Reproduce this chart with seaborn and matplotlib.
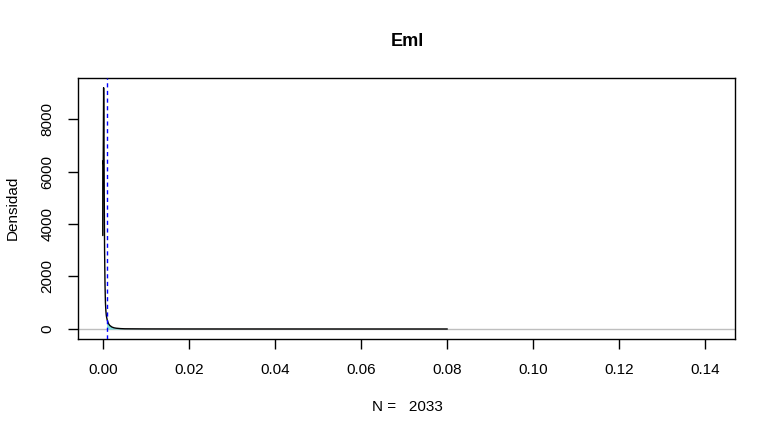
import numpy as np
import pandas as pd
import matplotlib
matplotlib.use("Agg")
import matplotlib.pyplot as plt
import seaborn as sns

# density estimate of Eml
dens_x = [-0.00012, -0.00011, -0.00002, 0.00008, 0.00014, 0.00022, 0.0003,
          0.0004, 0.0005, 0.0006, 0.0007, 0.00077, 0.0009, 0.001, 0.0012,
          0.0015, 0.002, 0.0025, 0.003, 0.004, 0.005, 0.01, 0.02, 0.04,
          0.06, 0.08]
dens_y = [3560, 6400, 6300, 9190, 8000, 5200, 3000,
          1700, 1000, 700, 520, 450, 350, 300, 210,
          135, 75, 45, 30, 15, 8, 3, 1.5, 1,
          0.5, 0.3]
cut_value = 0.00077
n_obs = 2033
x_ticks = [0.00, 0.02, 0.04, 0.06, 0.08, 0.10, 0.12, 0.14]
y_ticks = [0, 2000, 4000, 6000, 8000]


def main():
    sns.set_style("ticks")
    plt.rcParams["font.family"] = ["Liberation Sans", "DejaVu Sans"]
    plt.rcParams["text.color"] = "black"

    df = pd.DataFrame({"x": dens_x, "y": dens_y})
    tail = df[df["x"] >= cut_value]

    fig = plt.figure(figsize=(7.76, 4.37), dpi=100)
    ax = fig.add_axes([78 / 776, 1 - 339 / 437, 657 / 776, 261 / 437])

    ax.axhline(0, color="#BEBEBE", lw=1, zorder=1)
    ax.fill_between(tail["x"], 0, tail["y"], color="#7FDFE0", lw=0, zorder=2)
    sns.lineplot(data=df, x="x", y="y", color="black", lw=1,
                 estimator=None, sort=False, ax=ax, zorder=3)
    ax.axvline(cut_value, color="blue", lw=1, dashes=(3, 2.5), zorder=4)

    ax.set_xlim(-0.00588, 0.1469)
    ax.set_ylim(-381, 9562)
    ax.set_xticks(x_ticks)
    ax.set_xticklabels([f"{t:.2f}" for t in x_ticks])
    ax.set_yticks(y_ticks)
    ax.set_yticklabels([str(t) for t in y_ticks], rotation=90, va="center")
    ax.tick_params(axis="both", length=7, width=1, pad=10,
                   labelsize=11, color="black", labelcolor="black")
    for s in ax.spines.values():
        s.set_visible(True)
        s.set_linewidth(1)
        s.set_color("black")
    ax.set_xlabel("")
    ax.set_ylabel("")

    fig.text(407 / 776, 1 - 42 / 437, "Eml", ha="center", va="center",
             fontsize=13, fontweight="bold", color="black")
    fig.text(407 / 776, 1 - 407 / 437, f"N =   {n_obs}", ha="center",
             va="center", fontsize=11, color="black")
    fig.text(13 / 776, 1 - 208 / 437, "Densidad", ha="center", va="center",
             rotation=90, fontsize=11, color="black")

    fig.savefig("out.png", dpi=100, facecolor="white")


if __name__ == "__main__":
    main()
